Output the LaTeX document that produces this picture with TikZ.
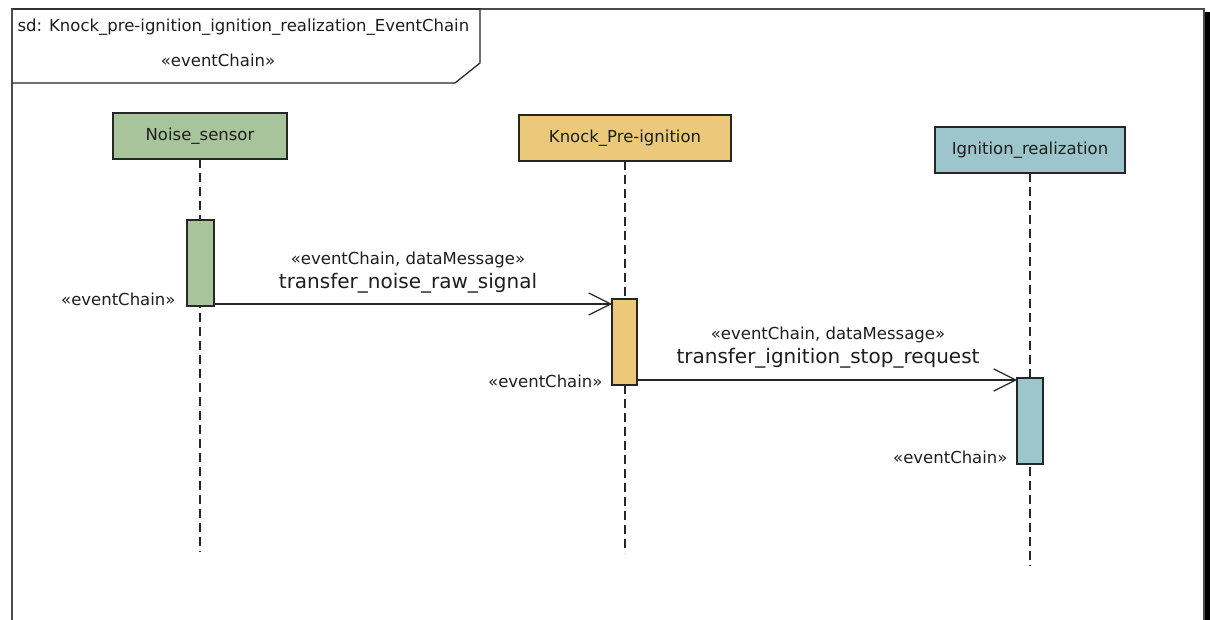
\documentclass[tikz,border=0pt]{standalone}
\usepackage{fontspec}
\setmainfont{DejaVu Sans}
\usetikzlibrary{arrows.meta}
\definecolor{cgreen}{RGB}{167,196,154}
\definecolor{cyellow}{RGB}{236,201,122}
\definecolor{cblue}{RGB}{157,197,204}
\definecolor{ctext}{RGB}{30,30,30}
\tikzset{
  small/.style={font=\fontsize{16.5}{19}\selectfont, text=ctext},
  big/.style={font=\fontsize{20}{23}\selectfont, text=ctext},
  headbox/.style={draw=black!85, line width=1.4, small, minimum height=46, inner sep=0, outer sep=0},
  actbox/.style={draw=black!85, line width=1.4, minimum height=86, inner sep=0, outer sep=0},
  lifeline/.style={draw=black!85, line width=1.3, dash pattern=on 9pt off 5pt},
  msg/.style={draw=black!85, line width=1.2, -{Straight Barb[length=22,width=22,line width=1.2]}},
}
\begin{document}
\begin{tikzpicture}[x=1pt,y=-1pt]
\useasboundingbox (0,0) rectangle (1210,620);
\clip (0,0) rectangle (1210,620);
\fill[white] (0,0) rectangle (1210,620);
% frame
\fill[black] (1205,12) rectangle (1209.5,630);
\draw[black!70, line width=1.3] (12,9) rectangle (1204,640);
\draw[black!85, line width=1.3] (12,9) -- (480,9) -- (480,63) -- (455,83) -- (12,83);
\node[small, anchor=west] (title) at (14,27) {sd: Knock\_pre-ignition\_ignition\_realization\_EventChain};
\node[small] (stereo) at (218,60) {«eventChain»};
% heads
\node[headbox, fill=cgreen, minimum width=174] (h1) at (200,136) {Noise\_sensor};
\node[headbox, fill=cyellow, minimum width=212] (h2) at (625,138) {Knock\_Pre-ignition};
\node[headbox, fill=cblue, minimum width=190] (h3) at (1030,150) {Ignition\_realization};
\coordinate (e1) at (200,552);
\coordinate (e2) at (625,553);
\coordinate (e3) at (1030,566);
\draw[lifeline] (h1.south) -- (e1);
\draw[lifeline] (h2.south) -- (e2);
\draw[lifeline] (h3.south) -- (e3);
% activations
\node[actbox, fill=cgreen, minimum width=27] (a1) at (200.5,263) {};
\node[actbox, fill=cyellow, minimum width=25] (a2) at (624.5,342) {};
\node[actbox, fill=cblue, minimum width=26] (a3) at (1030,421) {};
\node[small, anchor=east] (l1) at ([xshift=-8]a1.south west |- 0,299) {«eventChain»};
\node[small, anchor=east] (l2) at ([xshift=-6]a2.south west |- 0,381) {«eventChain»};
\node[small, anchor=east] (l3) at ([xshift=-6]a3.south west |- 0,457) {«eventChain»};
% messages
\coordinate (m1s) at ([yshift=2]a1.south east);
\coordinate (m2s) at ([yshift=5]a2.south east);
\draw[msg] (m1s) -- (a2.west |- m1s);
\draw[msg] (m2s) -- (a3.west |- m2s);
\node[small] (s1) at (408,260) {«eventChain, dataMessage»};
\node[big] (n1) at (408,283) {transfer\_noise\_raw\_signal};
\node[small] (s2) at (828,335) {«eventChain, dataMessage»};
\node[big] (n2) at (828,358) {transfer\_ignition\_stop\_request};
\end{tikzpicture}
\end{document}
